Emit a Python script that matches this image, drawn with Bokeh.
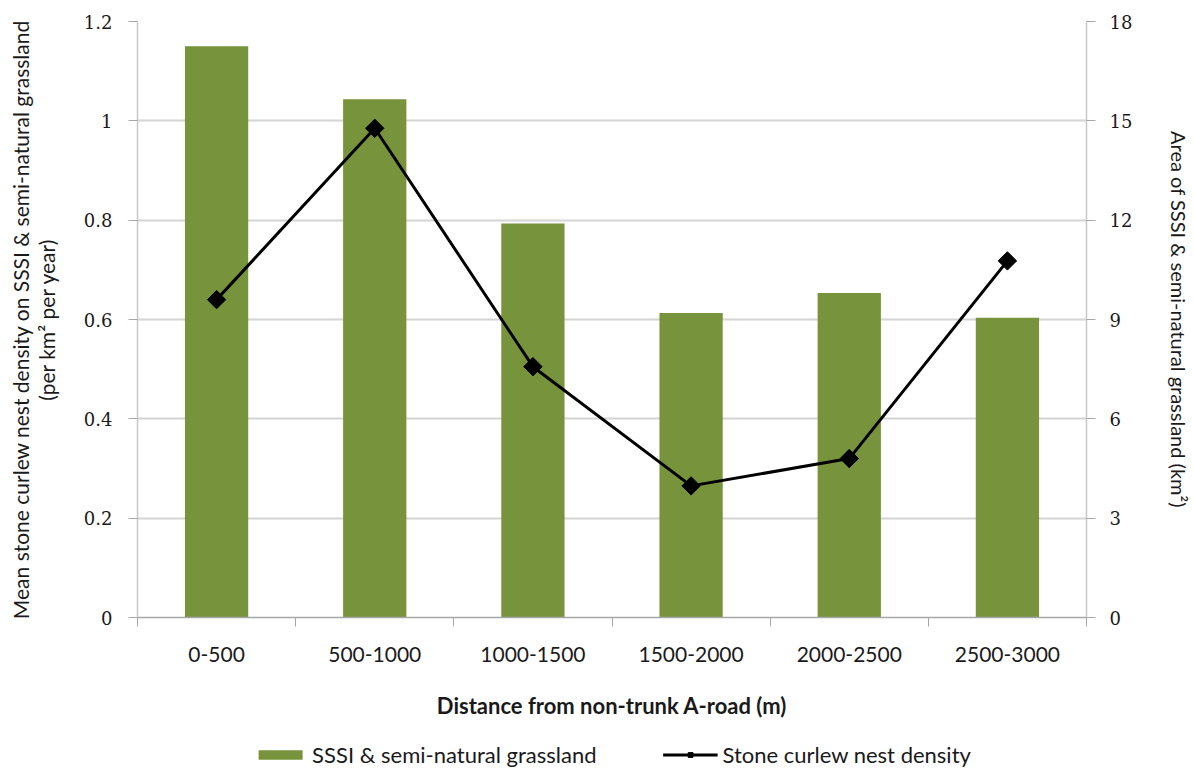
import math
from bokeh.plotting import figure
from bokeh.layouts import column
from bokeh.models import (Range1d, LinearAxis, FixedTicker, Legend, LegendItem,
                          ColumnDataSource)
from bokeh.embed import file_html
from bokeh.resources import INLINE

# ---- data ----
categories = ["0-500", "500-1000", "1000-1500", "1500-2000", "2000-2500", "2500-3000"]
grassland_area_km2 = [17.25, 15.65, 11.9, 9.2, 9.8, 9.05]
nest_density = [0.64, 0.985, 0.505, 0.265, 0.32, 0.718]
left_ticks = [0, 0.2, 0.4, 0.6, 0.8, 1.0, 1.2]
right_ticks = [0, 3, 6, 9, 12, 15, 18]
legend_labels = ["SSSI & semi-natural grassland", "Stone curlew nest density"]

x = [i + 0.5 for i in range(len(categories))]
src = ColumnDataSource(dict(x=x, cat=categories, area=grassland_area_km2,
                            density=nest_density))

SANS = "Lato"
SERIF = "DejaVu Serif"
TXT = "#1a1a1a"
GREEN = "#77933c"
W = 1194
FL, FR, FT, FB = 137, 1086, 21, 617   # frame edges
H_MAIN = 740
H_LEG = 28

p = figure(width=W, height=H_MAIN, output_backend="svg", toolbar_location=None,
           x_range=Range1d(0, len(categories)), y_range=Range1d(0, 1.2),
           min_border_left=FL, min_border_right=W - FR, min_border_top=FT,
           min_border_bottom=H_MAIN - FB)
p.extra_y_ranges = {"area": Range1d(0, 18)}
p.outline_line_color = None

bars = p.vbar(x="x", top="area", bottom=0, width=0.4, source=src,
              y_range_name="area", fill_color=GREEN, line_color=None)
line = p.line("x", "density", source=src, line_color="black", line_width=3)
pts = p.scatter("x", "density", source=src, marker="square", angle=math.pi / 4,
                size=13, fill_color="black", line_color="black")

# x axis
xa = p.xaxis[0]
xa.ticker = FixedTicker(ticks=x, minor_ticks=list(range(len(categories) + 1)))
xa.major_label_overrides = {xi: c for xi, c in zip(x, categories)}
xa.major_tick_line_color = None
xa.major_tick_out = 9
xa.major_tick_in = 0
xa.minor_tick_line_color = "#a6a6a6"
xa.minor_tick_out = 9
xa.minor_tick_in = 0
xa.axis_line_color = "#a6a6a6"
xa.axis_line_width = 1.5
xa.major_label_standoff = 20
xa.major_label_text_font = SANS
xa.major_label_text_font_size = "21px"
xa.major_label_text_color = TXT
xa.axis_label = "Distance from non-trunk A-road (m)"
xa.axis_label_text_font = SANS
xa.axis_label_text_font_size = "22px"
xa.axis_label_text_font_style = "bold"
xa.axis_label_text_color = TXT
xa.axis_label_standoff = 27

# left axis
ya = p.yaxis[0]
ya.ticker = FixedTicker(ticks=left_ticks)
ya.major_label_overrides = {0: "0", 1.0: "1"}
ya.minor_tick_line_color = None
ya.major_tick_out = 9
ya.major_tick_in = 0
ya.major_tick_line_color = "#a6a6a6"
ya.axis_line_color = "#c8c8c8"
ya.axis_line_width = 1.5
ya.major_label_standoff = 16
ya.major_label_text_font = SERIF
ya.major_label_text_font_size = "18px"
ya.major_label_text_color = TXT
ya.axis_label = "Mean stone curlew nest density on SSSI & semi-natural grassland\n(per km\u00b2 per year)"
ya.axis_label_text_font = SANS
ya.axis_label_text_font_size = "21px"
ya.axis_label_text_font_style = "normal"
ya.axis_label_text_line_height = 1.05
ya.axis_label_text_color = TXT
ya.axis_label_standoff = 22

# right axis
ra = LinearAxis(y_range_name="area", ticker=FixedTicker(ticks=right_ticks))
ra.minor_tick_line_color = None
ra.major_tick_out = 9
ra.major_tick_in = 0
ra.major_tick_line_color = "#a6a6a6"
ra.axis_line_color = "#c8c8c8"
ra.axis_line_width = 1.5
ra.major_label_standoff = 14
ra.major_label_text_font = SERIF
ra.major_label_text_font_size = "18px"
ra.major_label_text_color = TXT
ra.axis_label = "Area of SSSI & semi-natural grassland (km\u00b2)"
ra.axis_label_text_font = SANS
ra.axis_label_text_font_size = "20px"
ra.axis_label_text_font_style = "normal"
ra.axis_label_text_color = TXT
ra.axis_label_standoff = 32
p.add_layout(ra, "right")

# grid
p.xgrid.visible = False
p.ygrid[0].ticker = FixedTicker(ticks=left_ticks)
p.ygrid.grid_line_color = "#d4d4d4"
p.ygrid.grid_line_width = 2

# legend strip below the chart (same renderers' styles; data stays out of view)
lg = figure(width=W, height=H_LEG, output_backend="svg", toolbar_location=None,
            x_range=Range1d(100, 101), y_range=Range1d(100, 101),
            x_axis_type=None, y_axis_type=None,
            min_border_left=FL, min_border_right=W - FR, min_border_top=0,
            min_border_bottom=0)
lg.outline_line_color = None
lg.xgrid.visible = False
lg.ygrid.visible = False
lb = lg.vbar(x="x", top="area", bottom=0, width=0.4, source=src,
             fill_color=GREEN, line_color=None)
ll = lg.line("x", "density", source=src, line_color="black", line_width=3)
ls = lg.scatter("x", "density", source=src, marker="square", angle=math.pi / 4,
                size=9, fill_color="black", line_color="black")
legend = Legend(items=[
    LegendItem(label=legend_labels[0], renderers=[lb]),
    LegendItem(label=legend_labels[1], renderers=[ll, ls]),
], orientation="horizontal", location="center")
legend.glyph_width = 55
legend.glyph_height = 12
legend.label_standoff = 5
legend.spacing = 66
legend.padding = 0
legend.margin = 0
legend.border_line_color = None
legend.background_fill_alpha = 0
legend.label_text_font = SANS
legend.label_text_font_size = "22px"
legend.label_text_color = TXT
lg.add_layout(legend, "center")

layout = column(p, lg, spacing=0)
open("out.html", "w").write(file_html(layout, INLINE))
